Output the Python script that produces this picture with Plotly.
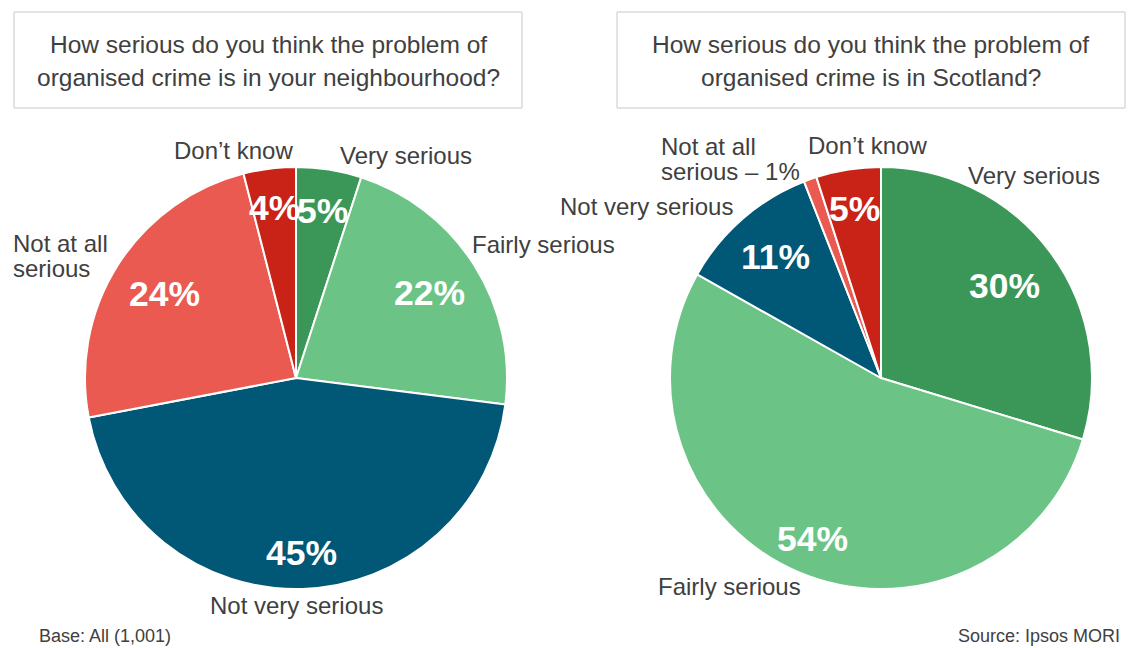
import math
import plotly.graph_objects as go

# ---------------- data ----------------
categories = ["Very serious", "Fairly serious", "Not very serious",
              "Not at all serious", "Don’t know"]
neigh_values = [5, 22, 45, 24, 4]
scot_values = [30, 54, 11, 1, 5]

neigh_title = ["How serious do you think the problem of",
               "organised crime is in your neighbourhood?"]
scot_title = ["How serious do you think the problem of",
              "organised crime is in Scotland?"]

neigh_outside = [["Very serious"], ["Fairly serious"], ["Not very serious"],
                 ["Not at all", "serious"], ["Don’t know"]]
scot_outside = [["Very serious"], ["Fairly serious"], ["Not very serious"],
                ["Not at all", "serious – 1%"], ["Don’t know"]]

base_text = "Base: All (1,001)"
source_text = "Source: Ipsos MORI"

# ---------------- style / layout ----------------
W, H = 1135, 648
colors = ["#3a9758", "#6bc486", "#005776", "#ea5a50", "#c92217"]
TXT = "#404040"
FONT = "Liberation Sans, Arial, sans-serif"

R = 211
pies = [
    dict(values=neigh_values, cx=296, cy=378, title=neigh_title, box=(14, 12, 522, 108),
         outside=neigh_outside,
         rfrac=[0.80, 0.75, 0.83, 0.74, 0.81],
         outpos=[(406, 156, "center"), (543, 244, "center"), (296, 605, "center"),
                 (11, 256, "left"), (234, 150, "center")]),
    dict(values=scot_values, cx=881, cy=378, title=scot_title, box=(617, 12, 1125, 108),
         outside=scot_outside,
         rfrac=[0.73, 0.83, 0.76, 0.80, 0.81],
         outpos=[(1034, 175, "center"), (729, 586, "center"), (647, 207, "center"),
                 (659, 159, "left"), (867, 145, "center")]),
]


def px(x):
    return x / W


def py(y):
    return 1 - y / H


fig = go.Figure()
annotations = []
shapes = []


def add_text(lines, x, yc, anchor, size, color, spacing, bold=False):
    n = len(lines)
    for i, line in enumerate(lines):
        y = yc + (i - (n - 1) / 2) * spacing
        annotations.append(dict(
            x=px(x), y=py(y), xref="paper", yref="paper",
            text=f"<b>{line}</b>" if bold else line,
            showarrow=False, xanchor=anchor, yanchor="middle",
            font=dict(family=FONT, size=size, color=color)))


for p in pies:
    cx, cy = p["cx"], p["cy"]
    x0, y0, x1, y1 = p["box"]
    shapes.append(dict(type="rect", xref="paper", yref="paper",
                       x0=px(x0), x1=px(x1), y0=py(y1), y1=py(y0),
                       line=dict(color="#c8c8c8", width=1), fillcolor="white", layer="below"))
    add_text(p["title"], (x0 + x1) / 2, (y0 + y1) / 2 + 1, "center", 24.5, TXT, 33)

    fig.add_trace(go.Pie(
        labels=categories, values=p["values"], sort=False, direction="clockwise",
        rotation=0, textinfo="none", hoverinfo="label+percent",
        marker=dict(colors=colors, line=dict(color="white", width=2)),
        domain=dict(x=[px(cx - R), px(cx + R)], y=[py(cy + R), py(cy - R)]),
        showlegend=False,
    ))
    total = sum(p["values"])
    cum = 0
    for v, rf in zip(p["values"], p["rfrac"]):
        mid = (cum + v / 2) / total * 2 * math.pi
        cum += v
        if v < 2:
            continue
        x = cx + rf * R * math.sin(mid)
        y = cy - rf * R * math.cos(mid)
        add_text([f"{v}%"], x, y, "center", 35.5, "white", 0, bold=True)
    for lines, (x, y, anc) in zip(p["outside"], p["outpos"]):
        add_text(lines, x, y, anc, 24, TXT, 25)

add_text([base_text], 37, 636, "left", 18, TXT, 0)
add_text([source_text], 1122, 636, "right", 18, TXT, 0)

fig.update_layout(
    width=W, height=H, margin=dict(l=0, r=0, t=0, b=0),
    paper_bgcolor="white", plot_bgcolor="white",
    annotations=annotations, shapes=shapes,
)

fig.write_html("out.html")
